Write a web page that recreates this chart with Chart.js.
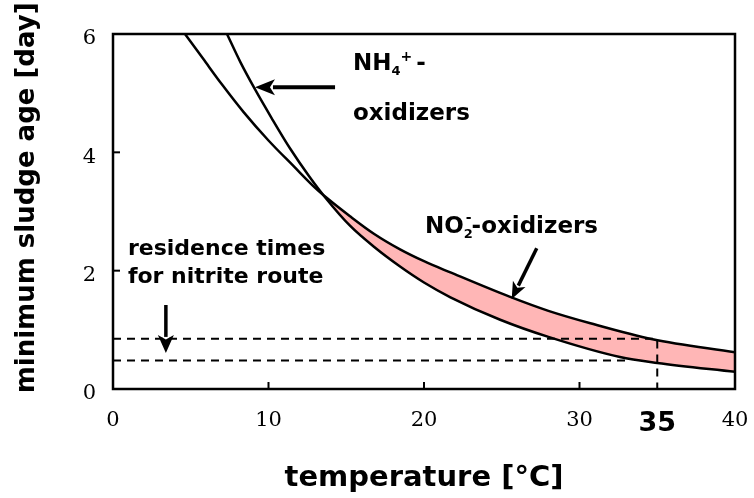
<!DOCTYPE html>
<html>
<head>
<meta charset="utf-8">
<script src="https://cdn.jsdelivr.net/npm/chart.js@4.4.1/dist/chart.umd.min.js"></script>
<style>
html,body{margin:0;padding:0;background:#fff;}
#wrap{width:754px;height:498px;}
</style>
</head>
<body>
<div id="wrap"><canvas id="c" width="754" height="498"></canvas></div>
<script>
// ---- data ----
const xTickValues = [0, 10, 20, 30, 35, 40];
const yTickValues = [0, 2, 4, 6];
const highlightTemp = 35;

// NO2- -oxidizers (upper curve of the band at high temperature)
const no2Temp = [4.63, 5.8, 7.0, 8.4, 10.0, 11.6, 13.0, 13.7, 15.24, 16.8, 18.46, 20.0, 21.7, 25.5, 28.0, 30.7, 34.7, 40.0];
const no2Age  = [6.0, 5.58, 5.15, 4.68, 4.2, 3.77, 3.40, 3.24, 2.92, 2.62, 2.36, 2.16, 1.97, 1.56, 1.32, 1.11, 0.84, 0.62];

// NH4+ -oxidizers (steeper curve)
const nh4Temp = [7.33, 8.2, 9.1, 10.2, 11.4, 12.6, 13.7, 15.24, 16.8, 18.46, 20.0, 21.7, 24.9, 28.0, 32.6, 35.0, 40.0];
const nh4Age  = [6.0, 5.52, 5.08, 4.58, 4.06, 3.6, 3.22, 2.76, 2.4, 2.07, 1.8, 1.55, 1.17, 0.88, 0.54, 0.44, 0.29];

// residence times for nitrite route (dashed guides)
const upperGuideTemp = [0, 35, 35];
const upperGuideAge  = [0.85, 0.85, 0];
const lowerGuideTemp = [0, 33];
const lowerGuideAge  = [0.48, 0.48];

// ---- helpers ----
const pts = (xs, ys) => xs.map((x, i) => ({x: x, y: ys[i]}));

const LABEL_FONT = 'DejaVu Sans';

// annotation anchors in data units (temperature, age)
const annot = {
  nh4Text:  {t: 15.43, a: 5.39},
  nh4Text2: {t: 15.43, a: 4.54},
  nh4Arrow: {from: [14.28, 5.10], to: [9.13, 5.10]},
  no2Text:  {t: 20.06, a: 2.64},
  no2Arrow: {from: [27.25, 2.38], to: [25.64, 1.52]},
  resText1: {t: 0.96, a: 2.26},
  resText2: {t: 0.96, a: 1.79},
  resArrow: {from: [3.4, 1.42], to: [3.4, 0.61]}
};

function drawArrow(ctx, x0, y0, x1, y1, lw, headLen, headHalf) {
  const dx = x1 - x0, dy = y1 - y0;
  const len = Math.hypot(dx, dy);
  const ux = dx / len, uy = dy / len;
  const bx = x1 - ux * headLen, by = y1 - uy * headLen;
  ctx.save();
  ctx.strokeStyle = '#000';
  ctx.fillStyle = '#000';
  ctx.lineWidth = lw;
  ctx.lineCap = 'butt';
  ctx.beginPath();
  ctx.moveTo(x0, y0);
  ctx.lineTo(bx + ux * 2, by + uy * 2);
  ctx.stroke();
  ctx.beginPath();
  ctx.moveTo(x1, y1);
  ctx.lineTo(bx - uy * headHalf, by + ux * headHalf);
  ctx.lineTo(bx + ux * headLen * 0.25, by + uy * headLen * 0.25);
  ctx.lineTo(bx + uy * headHalf, by - ux * headHalf);
  ctx.closePath();
  ctx.fill();
  ctx.restore();
}

function drawRich(ctx, parts, x, y) {
  let cx = x;
  parts.forEach(p => {
    ctx.font = 'bold ' + p.size + 'px "' + LABEL_FONT + '"';
    ctx.fillText(p.t, cx, y + (p.dy || 0));
    cx += ctx.measureText(p.t).width + (p.gap || 0);
  });
}

const decor = {
  id: 'decor',
  afterDatasetsDraw(chart) {
    const ctx = chart.ctx;
    const a = chart.chartArea;
    const xs = chart.scales.x, ys = chart.scales.y;
    ctx.save();
    ctx.strokeStyle = '#000';
    // inward tick marks
    ctx.lineWidth = 2;
    xTickValues.forEach(v => {
      if (v === highlightTemp || v === xs.min || v === xs.max) return;
      const px = xs.getPixelForValue(v);
      ctx.beginPath(); ctx.moveTo(px, a.bottom); ctx.lineTo(px, a.bottom - 7); ctx.stroke();
    });
    yTickValues.forEach(v => {
      if (v === ys.min || v === ys.max) return;
      const py = ys.getPixelForValue(v);
      ctx.beginPath(); ctx.moveTo(a.left, py); ctx.lineTo(a.left + 7, py); ctx.stroke();
    });
    // frame
    ctx.lineWidth = 2.5;
    ctx.strokeRect(a.left, a.top, a.right - a.left, a.bottom - a.top);
    ctx.restore();
  },
  afterDraw(chart) {
    const ctx = chart.ctx;
    const xs = chart.scales.x, ys = chart.scales.y;
    const X = t => xs.getPixelForValue(t);
    const Y = v => ys.getPixelForValue(v);
    ctx.save();
    ctx.fillStyle = '#000';
    ctx.textBaseline = 'alphabetic';
    ctx.textAlign = 'left';
    // NH4+ label
    drawRich(ctx, [
      {t: 'NH', size: 23},
      {t: '4', size: 13, dy: 5},
      {t: '+', size: 14, dy: -9, gap: 4},
      {t: '-', size: 23}
    ], X(annot.nh4Text.t), Y(annot.nh4Text.a));
    drawRich(ctx, [{t: 'oxidizers', size: 23}], X(annot.nh4Text2.t), Y(annot.nh4Text2.a));
    // NO2- label
    drawRich(ctx, [
      {t: 'NO', size: 23},
      {t: '2', size: 13, dy: 5, gap: -7},
      {t: '-', size: 14, dy: -11},
      {t: '-oxidizers', size: 23}
    ], X(annot.no2Text.t), Y(annot.no2Text.a));
    // residence times label
    drawRich(ctx, [{t: 'residence times', size: 22}], X(annot.resText1.t), Y(annot.resText1.a));
    drawRich(ctx, [{t: 'for nitrite route', size: 22}], X(annot.resText2.t), Y(annot.resText2.a));
    ctx.restore();
    // arrows
    const na = annot.nh4Arrow, oa = annot.no2Arrow, ra = annot.resArrow;
    drawArrow(ctx, X(na.from[0]), Y(na.from[1]), X(na.to[0]), Y(na.to[1]), 4, 20, 8);
    drawArrow(ctx, X(oa.from[0]), Y(oa.from[1]), X(oa.to[0]), Y(oa.to[1]), 3.5, 17, 7);
    drawArrow(ctx, X(ra.from[0]), Y(ra.from[1]), X(ra.to[0]), Y(ra.to[1]), 3.5, 18, 8);
  }
};

const serifTick = {family: 'DejaVu Serif', size: 21};

new Chart(document.getElementById('c'), {
  type: 'line',
  data: {
    datasets: [
      {
        label: 'NO2- oxidizers',
        data: pts(no2Temp, no2Age),
        borderColor: '#000',
        borderWidth: 2.5,
        pointRadius: 0,
        cubicInterpolationMode: 'monotone',
        fill: {target: 1, above: 'rgb(255,182,182)', below: 'rgba(255,255,255,0)'}
      },
      {
        label: 'NH4+ oxidizers',
        data: pts(nh4Temp, nh4Age),
        borderColor: '#000',
        borderWidth: 2.5,
        pointRadius: 0,
        cubicInterpolationMode: 'monotone',
        fill: false
      },
      {
        label: 'upper residence time',
        data: pts(upperGuideTemp, upperGuideAge),
        borderColor: '#000',
        borderWidth: 2,
        borderDash: [8, 6],
        pointRadius: 0,
        tension: 0,
        fill: false
      },
      {
        label: 'lower residence time',
        data: pts(lowerGuideTemp, lowerGuideAge),
        borderColor: '#000',
        borderWidth: 2,
        borderDash: [8, 6],
        pointRadius: 0,
        tension: 0,
        fill: false
      }
    ]
  },
  options: {
    responsive: false,
    animation: false,
    devicePixelRatio: 1,
    layout: {padding: {left: 0, top: 34, right: 19, bottom: 0}},
    plugins: {
      legend: {display: false},
      tooltip: {enabled: false},
      filler: {drawTime: 'beforeDatasetsDraw'}
    },
    scales: {
      x: {
        type: 'linear',
        min: 0, max: 40,
        grid: {display: false, drawTicks: false},
        border: {display: false},
        afterBuildTicks: s => { s.ticks = xTickValues.map(v => ({value: v})); },
        afterFit: s => { s.height = 109; s.paddingLeft = 0; s.paddingRight = 0; },
        ticks: {
          padding: 19,
          color: '#000',
          autoSkip: false,
          maxRotation: 0,
          font: c => (c.tick && c.tick.value === highlightTemp)
            ? {family: 'DejaVu Sans', size: 27, weight: 'bold'}
            : serifTick
        },
        title: {
          display: true,
          text: 'temperature [°C]',
          color: '#000',
          font: {family: LABEL_FONT, size: 29, weight: 'bold', lineHeight: 1.2},
          padding: {top: 0, bottom: 2}
        }
      },
      y: {
        min: 0, max: 6,
        grid: {display: false, drawTicks: false},
        border: {display: false},
        afterBuildTicks: s => { s.ticks = yTickValues.map(v => ({value: v})); },
        afterFit: s => { s.width = 113; s.paddingTop = 0; s.paddingBottom = 0; },
        ticks: {padding: 17, color: '#000', font: serifTick, labelOffset: 5},
        title: {
          display: true,
          text: '   minimum sludge age [day]',
          color: '#000',
          font: {family: LABEL_FONT, size: 26, weight: 'bold', lineHeight: 1.2},
          padding: {top: 12, bottom: 0}
        }
      }
    }
  },
  plugins: [decor]
});
</script>
</body>
</html>
